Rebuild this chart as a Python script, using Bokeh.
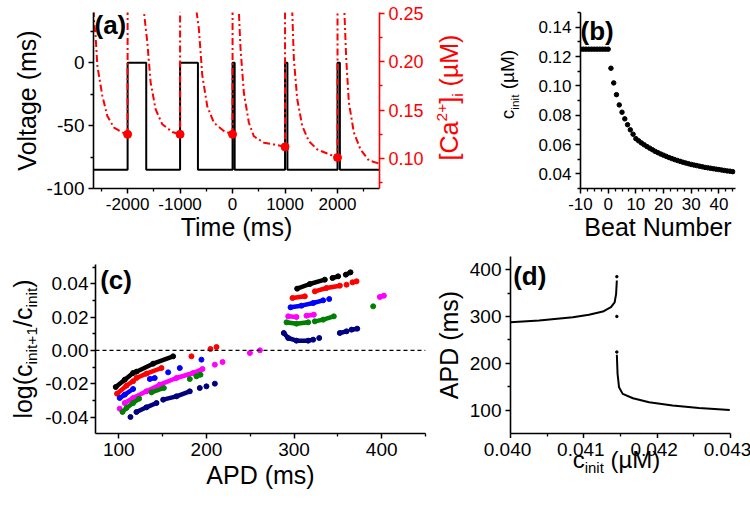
import math
from bokeh.plotting import figure
from bokeh.models import Range1d, LinearAxis, FixedTicker, NumeralTickFormatter, Label, Span
from bokeh.layouts import row, column
from bokeh.embed import file_html
from bokeh.resources import INLINE

nan = float("nan")
FONT = "Liberation Sans"

# ---------------- data: panel (a) ----------------
stim_times = [-2000, -1000, 0, 1000, 2000]
ap_durations = [355, 340, 40, 45, 45]
v_rest = -85.0
v_plateau = 0.0
c_init_beats = [0.125, 0.125, 0.125, 0.112, 0.101]
ca_time = [-2660, -2642, -2610, -2577, -2482, -2387, -2260, -2101, -2000,
           -2000, -1692, -1690, -1625, -1562, -1467, -1339, -1149, -1000,
           -1000, -688, -686, -642, -577, -482, -356, -166, 0,
           0, 118, 120, 152, 215, 311, 406, 597, 787, 1000,
           1000, 1135, 1137, 1168, 1232, 1328, 1453, 1613, 1803, 2000,
           2000, 2131, 2133, 2166, 2216, 2311, 2438, 2597, 2787, 2850]
ca_conc = [0.30, 0.243, 0.227, 0.196, 0.165, 0.144, 0.132, 0.127, 0.125,
           0.30, 0.30, 0.252, 0.2205, 0.179, 0.151, 0.1354, 0.1274, 0.125,
           0.30, 0.30, 0.252, 0.234, 0.186, 0.154, 0.137, 0.1285, 0.125,
           0.30, 0.30, 0.252, 0.2135, 0.168, 0.137, 0.123, 0.1163, 0.1146, 0.112,
           0.30, 0.30, 0.252, 0.203, 0.1615, 0.1337, 0.118, 0.1094, 0.1052, 0.101,
           0.30, 0.30, 0.249, 0.203, 0.158, 0.127, 0.1094, 0.098, 0.0948, 0.0944]

# ---------------- data: panel (b) ----------------
beat_number = list(range(-10, 46))
c_init = [0.125] * 11 + [
    0.112, 0.102, 0.094, 0.087, 0.082, 0.0775, 0.0735, 0.0700, 0.0670, 0.0640,
    0.0625, 0.0611, 0.0598, 0.0586, 0.0575, 0.0564, 0.0553, 0.0544, 0.0535, 0.0527,
    0.0519, 0.0511, 0.0504, 0.0497, 0.0491, 0.0485, 0.0479, 0.0474, 0.0469, 0.0464,
    0.0460, 0.0456, 0.0452, 0.0448, 0.0444, 0.0441, 0.0438, 0.0435, 0.0432, 0.0429,
    0.0426, 0.0423, 0.0420, 0.0418, 0.0415]

# ---------------- data: panel (c) ----------------
black_apd = [96.5, 106.8, 116.3, nan, 120.1, 139.2, 162.0, nan, 303.5, 318.0, 335.1, nan,
             343.9, 350.3, nan, 359.1, 364.4]
black_log = [-0.022, -0.0176, -0.0136, nan, -0.0128, -0.0080, -0.0036, nan, 0.0370, 0.0398, 0.0424, nan,
             0.0434, 0.0444, nan, 0.0454, 0.0468]
red_apd = [98.0, 108.7, 116.3, nan, 120.1, 131.5, 148.7, nan, 182.9, nan, 204.6, nan, 211.5, nan,
           298.2, 312.3, nan, 323.7, 337.0, 352.3, nan, 359.9, nan, 366.7, 371.3]
red_log = [-0.026, -0.0212, -0.0185, nan, -0.0166, -0.014, -0.0106, nan, -0.0036, nan, 0.0008, nan, 0.0020, nan,
           0.0314, 0.0324, nan, 0.0354, 0.0374, 0.0388, nan, 0.0394, nan, 0.0408, 0.0414]
blue_apd = [101.0, 106.8, 116.3, nan, 135.4, 141.0, nan, 156.3, nan, 169.6, nan, 194.3, nan,
            296.0, 308.5, 321.8, 333.2, nan, 340.1]
blue_log = [-0.0286, -0.0266, -0.0232, nan, -0.0172, -0.0166, nan, -0.0132, nan, -0.0106, nan, -0.0056, nan,
            0.0258, 0.0268, 0.0284, 0.0300, nan, 0.0308]
magenta_apd = [101.0, nan, 106.8, 116.3, 131.5, 146.8, 165.8, 184.8, 195.5, nan, 209.6, nan, 218.4, nan,
               249.6, nan, 261.0, nan, 293.3, 302.8, nan, 314.2, 322.6, nan, 397.9, 402.5]
magenta_log = [-0.035, nan, -0.0316, -0.0286, -0.0246, -0.0206, -0.0166, -0.0136, -0.0112, nan, -0.0086, nan,
               -0.0070, nan, -0.0016, nan, 0.0, nan, 0.0204, 0.0200, nan, 0.0208, 0.0214, nan, 0.0320, 0.0328]
green_apd = [104.2, 108.7, 116.3, 123.2, nan, 137.3, 151.4, nan, 181.0, nan, 188.6, 193.2, nan,
             291.4, 302.8, 316.1, nan, 323.7, 333.2, 345.4, nan, 390.3]
green_log = [-0.037, -0.0346, -0.0316, -0.029, nan, -0.0252, -0.0226, nan, -0.0172, nan, -0.0156, -0.0146, nan,
             0.0168, 0.0160, 0.0168, nan, 0.0174, 0.0184, 0.0204, nan, 0.0264]
navy_apd = [113.3, nan, 120.1, 131.5, 143.0, nan, 150.6, 165.8, 181.0, nan, 192.4, nan, 200.0, nan, 209.6, nan,
            288.3, 293.3, 302.8, 316.1, 321.8, nan, 328.7, nan, 352.2, 359.9, nan, 365.6, 372.1]
navy_log = [-0.040, nan, -0.037, -0.0342, -0.0316, nan, -0.0296, -0.0276, -0.0246, nan, -0.0226, nan, -0.0216, nan,
            -0.0200, nan, 0.0104, 0.0074, 0.0058, 0.0058, 0.0064, nan, 0.0074, nan, 0.0104, 0.0114, nan, 0.0124, 0.0130]
series_c = [(black_apd, black_log, "black"), (red_apd, red_log, "#ff0000"), (blue_apd, blue_log, "#0000ff"),
            (magenta_apd, magenta_log, "#ff00ff"), (green_apd, green_log, "#008000"),
            (navy_apd, navy_log, "#000080")]

# ---------------- data: panel (d) ----------------
d_left_c = [0.04000, 0.04039, 0.04085, 0.04107, 0.04126, 0.04137, 0.04142, 0.04144, 0.04145]
d_left_apd = [287.6, 291.2, 298.3, 303.4, 310.5, 319.7, 330.0, 348.0, 376.7]
d_right_c = [0.04145, 0.04146, 0.04148, 0.04153, 0.04167, 0.04189, 0.04221, 0.04257, 0.04299]
d_right_apd = [218.0, 177.4, 148.7, 134.6, 125.2, 116.7, 109.6, 104.7, 100.4]
d_dots_c = [0.04145, 0.04145, 0.04145]
d_dots_apd = [385.0, 300.0, 224.0]
d_xticks = [0.040, 0.041, 0.042, 0.043]
d_xtick_labels = ["0.040", "0.041", "0.042", "0.043"]

# ---------------- helpers ----------------
AW = {' ': 278, '(': 333, ')': 333, '[': 278, ']': 278, '/': 278, '+': 584, '.': 278, '-': 333, 'µ': 576,
      'a': 556, 'b': 556, 'c': 500, 'd': 556, 'e': 556, 'g': 556, 'i': 222, 'l': 222, 'm': 833, 'n': 556,
      'o': 556, 'r': 333, 's': 500, 't': 278, 'u': 556, 'A': 667, 'B': 667, 'C': 722, 'D': 722, 'M': 833,
      'N': 722, 'P': 667, 'T': 611, 'V': 667}
MID = 0.3465  # distance (in em) from the text-box middle down to the alphabetic baseline


def tw(s, size):
    return sum(AW.get(ch, 556) for ch in s) * size / 1000.0


def rich_label(p, pieces, center, base, F, vertical=False, color="black"):
    """base = wanted baseline position (screen units of the frame)."""
    SUB = 0.62
    total = sum(tw(t, F * SUB if k != 'n' else F) for t, k in pieces)
    pos = center - total / 2.0
    for t, k in pieces:
        sz = F * SUB if k != 'n' else F
        stripped = t.lstrip(" ")
        pos += tw(t[:len(t) - len(stripped)], sz)
        off = {'n': 0.0, 'sub': -0.22 * F, 'sup': 0.40 * F}[k]
        kw = dict(text=stripped, x_units="screen", y_units="screen", text_font=FONT,
                  text_font_size=f"{sz:.1f}px", text_color=color, text_align="left",
                  text_baseline="middle")
        if vertical:
            lab = Label(x=base - off - MID * sz, y=pos, angle=math.pi / 2, **kw)
        else:
            lab = Label(x=pos, y=base + off + MID * sz, **kw)
        p.add_layout(lab)
        pos += tw(stripped, sz)


def no_align(p):
    try:
        p.frame_align = False
    except Exception:
        pass


def make_fig(xr, yr, fw, fh, bl, br, bt, bb):
    p = figure(x_range=Range1d(*xr), y_range=Range1d(*yr), frame_width=fw, frame_height=fh,
               min_border_left=bl, min_border_right=br, min_border_top=bt, min_border_bottom=bb,
               output_backend="svg", toolbar_location=None, tools="", title=None)
    p.outline_line_color = None
    p.xgrid.visible = False
    p.ygrid.visible = False
    p.background_fill_color = "white"
    p.border_fill_color = "white"
    no_align(p)
    return p


def blank_fig(w, fh, bt, bb, xr=(0, 1), yr=(0, 1)):
    p = figure(x_range=Range1d(*xr), y_range=Range1d(*yr), frame_width=w, frame_height=fh,
               min_border_left=0, min_border_right=0, min_border_top=bt, min_border_bottom=bb,
               x_axis_type=None, y_axis_type=None,
               output_backend="svg", toolbar_location=None, tools="", title=None)
    p.outline_line_color = None
    p.grid.visible = False
    p.background_fill_color = "white"
    p.border_fill_color = "white"
    no_align(p)
    return p


def style_axis(ax, size, ticks, minor, color="black", fmt=None, label=None, lstand=4, mstand=4):
    ax.ticker = FixedTicker(ticks=ticks, minor_ticks=minor)
    ax.axis_line_width = 1.6
    ax.axis_line_color = color
    ax.major_tick_line_color = color
    ax.major_tick_line_width = 1.5
    ax.major_tick_out = 5
    ax.major_tick_in = 0
    ax.minor_tick_line_color = color
    ax.minor_tick_line_width = 1.3
    ax.minor_tick_out = 3
    ax.minor_tick_in = 0
    ax.major_label_text_font = FONT
    ax.major_label_text_font_size = f"{size}px"
    ax.major_label_text_color = color
    ax.major_label_standoff = mstand
    ax.axis_label_text_font = FONT
    ax.axis_label_text_font_size = "25px"
    ax.axis_label_text_font_style = "normal"
    ax.axis_label_text_color = color
    ax.axis_label_standoff = lstand
    ax.formatter = NumeralTickFormatter(format=fmt if fmt else "0")
    ax.axis_label = label


def panel_tag(p, text, x, y):
    p.add_layout(Label(x=x, y=y, x_units="screen", y_units="screen", text=text, text_font=FONT,
                       text_font_size="26px", text_font_style="bold", text_color="black",
                       text_align="left", text_baseline="top"))


# ---------------- panel (a) ----------------
pa = make_fig((-2650, 2800), (-100, 40), 286, 176, 93, 46, 12, 62)
pa.extra_y_ranges = {"ca": Range1d(0.069, 0.251)}
v_t = [-2650]
v_v = [v_rest]
for t0, d in zip(stim_times, ap_durations):
    v_t += [t0, t0, t0 + d, t0 + d]
    v_v += [v_rest, v_plateau, v_plateau, v_rest]
v_t.append(2800)
v_v.append(v_rest)
pa.line(v_t, v_v, line_color="black", line_width=2)
pa.line(ca_time, ca_conc, y_range_name="ca", line_color="#ff0000", line_width=2, line_dash="7 3 2 3")
pa.scatter(stim_times, c_init_beats, y_range_name="ca", size=8, color="#ff0000")
style_axis(pa.xaxis[0], 17, [-2000, -1000, 0, 1000, 2000], [-2500, -1500, -500, 500, 1500, 2500],
           label="Time (ms)", lstand=0)
style_axis(pa.yaxis[0], 19, [-100, -50, 0], [-75, -25, 25], label="Voltage (ms)", lstand=2)
ax_ca = LinearAxis(y_range_name="ca")
pa.add_layout(ax_ca, "right")
style_axis(ax_ca, 18, [0.10, 0.15, 0.20, 0.25], [0.075, 0.125, 0.175, 0.225], color="#ff0000", fmt="0.00")
panel_tag(pa, "(a)", 1, 179)

# label strip between (a) and (b): frame rows 12..188 like its neighbours
lab1 = blank_fig(109, 176, 12, 62)
rich_label(lab1, [("[Ca", 'n'), ("2+", 'sup'), ("]", 'n'), ("i", 'sub'), (" (µM)", 'n')],
           center=91, base=31, F=25, vertical=True, color="#ff0000")
rich_label(lab1, [("c", 'n'), ("init", 'sub'), (" (µM)", 'n')], center=104, base=88, F=19, vertical=True)

# ---------------- panel (b) ----------------
pb = make_fig((-10, 46), (0.03, 0.15), 155, 176, 43, 10, 12, 62)
pb.scatter(beat_number, c_init, size=4.5, color="black")
style_axis(pb.xaxis[0], 17, [-10, 0, 10, 20, 30, 40],
           [-7.5, -5, -2.5, 2.5, 5, 7.5, 12.5, 15, 17.5, 22.5, 25, 27.5, 32.5, 35, 37.5, 42.5, 45],
           label="Beat Number", lstand=0)
style_axis(pb.yaxis[0], 17, [0.04, 0.06, 0.08, 0.10, 0.12, 0.14],
           [0.03, 0.05, 0.07, 0.09, 0.11, 0.13, 0.15], fmt="0.00")
panel_tag(pb, "(b)", 0, 173)

# ---------------- panel (c) ----------------
lab2 = blank_fig(42, 169, 14, 71)
rich_label(lab2, [("log(c", 'n'), ("init+1", 'sub'), ("/c", 'n'), ("init", 'sub'), (")", 'n')],
           center=84.5, base=31, F=25, vertical=True)

pc = make_fig((73.4, 450), (-0.0499, 0.0515), 330, 169, 51, 6, 14, 71)
pc.add_layout(Span(location=0, dimension="width", line_color="black", line_width=1.2, line_dash="4 3"))
for xs, ys, col in series_c:
    pc.line(xs, ys, line_color=col, line_width=4.5, line_cap="round")
    pc.scatter(xs, ys, size=5, color=col)
style_axis(pc.xaxis[0], 19, [100, 200, 300, 400], [150, 250, 350, 450], label="APD (ms)", lstand=2)
style_axis(pc.yaxis[0], 19, [-0.04, -0.02, 0.0, 0.02, 0.04], [-0.05, -0.03, -0.01, 0.01, 0.03, 0.05],
           fmt="0.00", mstand=2)
panel_tag(pc, "(c)", 4.7, 168.5)

# ---------------- panel (d) ----------------
pd_ = make_fig((0.040, 0.043), (50, 428), 220, 177, 76, 26, 6, 5)
pd_.line(d_left_c, d_left_apd, line_color="black", line_width=2)
pd_.line(d_right_c, d_right_apd, line_color="black", line_width=2)
pd_.scatter(d_dots_c, d_dots_apd, size=2.5, color="black")
style_axis(pd_.xaxis[0], 19, d_xticks, [0.0405, 0.0415, 0.0425], fmt="0.000", mstand=0)
pd_.xaxis[0].major_label_text_font_size = "0px"
pd_.xaxis[0].major_label_text_color = None
style_axis(pd_.yaxis[0], 19, [100, 200, 300, 400], [150, 250, 350], label="APD (ms)", lstand=4)
panel_tag(pd_, "(d)", 2.7, 172.5)

# strip below (d) using the same horizontal scale (same px per unit) with a full-width frame
k = (0.043 - 0.040) / 220.0
lab3 = blank_fig(322, 66, 0, 0, xr=(0.040 - 76 * k, 0.043 + 26 * k), yr=(0, 66))
for xv, txt in zip(d_xticks, d_xtick_labels):
    lab3.add_layout(Label(x=xv, y=48.2 + MID * 19, x_units="data", y_units="screen", text=txt,
                          text_font=FONT, text_font_size="19px", text_color="black", text_align="center",
                          text_baseline="middle"))
rich_label(lab3, [("c", 'n'), ("init", 'sub'), (" (µM)", 'n')], center=185, base=37, F=24)

layout = column(row(pa, lab1, pb), row(lab2, pc, column(pd_, lab3)))
open("out.html", "w").write(file_html(layout, INLINE))
